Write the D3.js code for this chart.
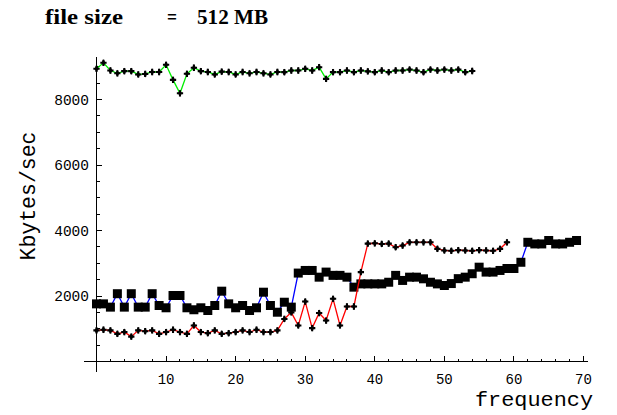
<!DOCTYPE html>
<html>
<head>
<meta charset="utf-8">
<script src="https://cdn.jsdelivr.net/npm/d3@7/dist/d3.min.js"></script>
<style>
  html, body { margin: 0; padding: 0; background: #fff; }
  svg { display: block; }
</style>
</head>
<body>
<svg id="chart" width="617" height="415"></svg>
<script>
// Transfer rate measurements (Kbytes/sec) against sampling frequency.
const frequency = [0,1,2,3,4,5,6,7,8,9,10,11,12,13,14,15,16,17,18,19,20,21,22,23,24,25,26,27,28,29,
  30,31,32,33,34,35,36,37,38,39,40,41,42,43,44,45,46,47,48,49,50,51,52,53,54,55,56,57,58,59,
  60,61,62,63,64,65,66,67,68,69];

// Upper run (green line)
const greenRate = [8937,9120,8885,8800,8865,8865,8765,8780,8840,8840,9060,8600,8190,8785,8970,8865,
  8840,8765,8850,8840,8765,8840,8800,8840,8800,8765,8840,8835,8885,8885,8937,8885,8986,8630,8835,
  8835,8885,8835,8885,8860,8835,8885,8835,8885,8885,8915,8885,8835,8915,8885,8915,8885,8915,8835,8870];

// Square-marker run (blue line)
const blueRate = [1760,1760,1660,2070,1660,2070,1660,1660,2070,1710,1640,2015,2015,1640,1580,1640,
  1557,1710,2147,1760,1640,1710,1557,1640,2116,1710,1505,1810,1660,2700,2780,2780,2575,2730,2630,
  2630,2575,2270,2370,2370,2370,2370,2420,2630,2475,2575,2575,2525,2420,2370,2320,2380,2530,2575,
  2680,2880,2730,2730,2780,2840,2840,3030,3640,3590,3590,3695,3590,3590,3640,3695];

// Lower run (red line)
const redRate = [950,970,950,845,900,760,950,925,950,845,900,970,900,845,1100,900,865,950,845,865,
  900,950,900,970,900,900,950,1300,1500,1100,1830,1020,1480,1250,1915,1100,1680,1680,2730,3600,
  3610,3590,3600,3490,3540,3640,3640,3640,3640,3440,3390,3380,3400,3390,3380,3400,3390,3380,3440,3640];

const xTickValues = [10, 20, 30, 40, 50, 60, 70];
const yTickValues = [2000, 4000, 6000, 8000];

const svg = d3.select("#chart");

const x = d3.scaleLinear().domain([0, 70]).range([96.5, 583.5]);
const y = d3.scaleLinear().domain([0, 8000]).range([361.5, 99.5]);

const monoFont = "'Liberation Mono', 'DejaVu Sans Mono', monospace";

// Title
const title = svg.append("text")
  .attr("y", 24)
  .attr("font-family", "'Liberation Serif', 'DejaVu Serif', serif")
  .attr("font-weight", "bold")
  .attr("font-size", 20)
  .attr("fill", "#000");
title.append("tspan").attr("x", 45).attr("textLength", 78).attr("lengthAdjust", "spacingAndGlyphs").text("file size");
title.append("tspan").attr("x", 167).attr("textLength", 10).attr("lengthAdjust", "spacingAndGlyphs").text("=");
title.append("tspan").attr("x", 197).attr("textLength", 71).attr("lengthAdjust", "spacingAndGlyphs").text("512 MB");

// Axes (crossing at the origin, ticks pointing into the plot)
const axes = svg.append("g").attr("stroke", "#000").attr("shape-rendering", "crispEdges");
axes.append("line")
  .attr("x1", x(-1.8)).attr("x2", x(70.7))
  .attr("y1", y(0)).attr("y2", y(0)).attr("stroke-width", 1.2);
axes.append("line")
  .attr("x1", x(0)).attr("x2", x(0))
  .attr("y1", y(-330)).attr("y2", y(9300)).attr("stroke-width", 1.2);

const xMinor = d3.range(2, 71, 2).filter(v => v % 10 !== 0);
axes.selectAll(".xminor").data(xMinor).join("line")
  .attr("x1", d => x(d)).attr("x2", d => x(d))
  .attr("y1", y(0)).attr("y2", y(0) - 3);
axes.selectAll(".xmajor").data(xTickValues).join("line")
  .attr("x1", d => x(d)).attr("x2", d => x(d))
  .attr("y1", y(0)).attr("y2", y(0) - 5.5);

const yMinor = d3.range(500, 9300, 500).filter(v => v % 2000 !== 0);
axes.selectAll(".yminor").data(yMinor).join("line")
  .attr("x1", x(0)).attr("x2", x(0) + 3)
  .attr("y1", d => y(d)).attr("y2", d => y(d));
axes.selectAll(".ymajor").data(yTickValues).join("line")
  .attr("x1", x(0)).attr("x2", x(0) + 5.5)
  .attr("y1", d => y(d)).attr("y2", d => y(d));

svg.selectAll(".xlabel").data(xTickValues).join("text")
  .attr("x", d => x(d)).attr("y", 384)
  .attr("text-anchor", "middle")
  .attr("font-family", monoFont).attr("font-size", 14)
  .text(d => d);

svg.selectAll(".ylabel").data(yTickValues).join("text")
  .attr("x", 89).attr("y", d => y(d) + 5)
  .attr("text-anchor", "end")
  .attr("font-family", monoFont).attr("font-size", 14.5)
  .text(d => d);

svg.append("text")
  .attr("x", 593).attr("y", 406)
  .attr("text-anchor", "end")
  .attr("font-family", monoFont).attr("font-size", 20)
  .attr("textLength", 118).attr("lengthAdjust", "spacingAndGlyphs")
  .text("frequency");

svg.append("text")
  .attr("transform", "translate(35,196) rotate(-90)")
  .attr("text-anchor", "middle")
  .attr("font-family", monoFont).attr("font-size", 21.5)
  .text("Kbytes/sec");

// Series
const line = d3.line().x(d => x(d[0])).y(d => y(d[1]));
const pairs = vals => vals.map((v, i) => [frequency[i], v]);

const starCross = d3.symbol(d3.symbolCross, 22)();
const starDiamond = d3.symbol(d3.symbolDiamond, 14)();

function drawStarSeries(vals, color) {
  const pts = pairs(vals);
  svg.append("path").datum(pts)
    .attr("d", line).attr("fill", "none")
    .attr("stroke", color).attr("stroke-width", 1.3);
  const g = svg.append("g");
  const m = g.selectAll("g").data(pts).join("g")
    .attr("transform", d => `translate(${x(d[0])},${y(d[1])})`);
  m.append("path").attr("d", starCross).attr("fill", "#000");
  m.append("path").attr("d", starDiamond).attr("fill", "#000");
}

function drawSquareSeries(vals, color) {
  const pts = pairs(vals);
  svg.append("path").datum(pts)
    .attr("d", line).attr("fill", "none")
    .attr("stroke", color).attr("stroke-width", 1.3);
  svg.append("g").selectAll("path").data(pts).join("path")
    .attr("d", d3.symbol(d3.symbolSquare, 81)())
    .attr("transform", d => `translate(${x(d[0])},${y(d[1])})`)
    .attr("fill", "#000");
}

drawSquareSeries(blueRate, "#0000ff");
drawStarSeries(redRate, "#ff0000");
drawStarSeries(greenRate, "#00ee00");
</script>
</body>
</html>
